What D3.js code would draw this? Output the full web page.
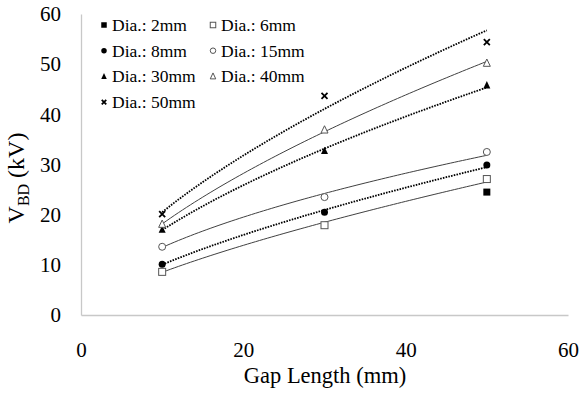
<!DOCTYPE html>
<html><head><meta charset="utf-8">
<script src="https://cdn.jsdelivr.net/npm/d3@7"></script>
<style>
html,body{margin:0;padding:0;background:#fff;}
svg text{font-family:"Liberation Serif","Times New Roman",Times,"DejaVu Serif",serif !important;}
</style></head>
<body><svg id="c" width="586" height="398"></svg>
<script>
// ---- data ----
const gapLengths = [10, 30, 50];
const seriesNames = ["Dia.: 2mm","Dia.: 6mm","Dia.: 8mm","Dia.: 15mm","Dia.: 30mm","Dia.: 40mm","Dia.: 50mm"];
const dia2  = [null, null, 24.5];
const dia6  = [8.6, 17.9, 27.1];
const dia8  = [10.1, 20.5, 29.9];
const dia15 = [13.6, 23.5, 32.5];
const dia30 = [17.0, 32.7, 45.8];
const dia40 = [18.1, 36.9, 50.2];
const dia50 = [20.1, 43.7, 54.4];
const xTicks = [0, 20, 40, 60];
const yTicks = [0, 10, 20, 30, 40, 50, 60];

const series = [
  {name: seriesNames[0], values: dia2,  marker: "square",   filled: true,  trend: null},
  {name: seriesNames[1], values: dia6,  marker: "square",   filled: false, trend: "solid"},
  {name: seriesNames[2], values: dia8,  marker: "circle",   filled: true,  trend: "dotted"},
  {name: seriesNames[3], values: dia15, marker: "circle",   filled: false, trend: "solid"},
  {name: seriesNames[4], values: dia30, marker: "triangle", filled: true,  trend: "dotted"},
  {name: seriesNames[5], values: dia40, marker: "triangle", filled: false, trend: "solid"},
  {name: seriesNames[6], values: dia50, marker: "cross",    filled: true,  trend: "dotted"}
];

const svg = d3.select("#c");
const x = d3.scaleLinear().domain([0, 60]).range([81, 568]);
const y = d3.scaleLinear().domain([0, 60]).range([315, 14]);

// axes lines
const axisColor = "#c8c8c8";
const gx = svg.append("g").attr("transform", `translate(0,${y(0)})`)
  .call(d3.axisBottom(x).tickValues(xTicks).tickSize(0).tickPadding(27));
gx.select(".domain").attr("stroke", axisColor).attr("stroke-width", 1.3);
gx.selectAll("text").attr("font-size", 21).attr("fill", "#000");

const gy = svg.append("g").attr("transform", `translate(${x(0)},0)`)
  .call(d3.axisLeft(y).tickValues(yTicks).tickSize(0).tickPadding(20));
gy.select(".domain").attr("stroke", axisColor).attr("stroke-width", 1.3);
gy.selectAll("text").attr("font-size", 21).attr("fill", "#000");

// axis titles
svg.append("text").attr("x", 325).attr("y", 383).attr("text-anchor", "middle")
  .attr("font-size", 22.5).text("Gap Length (mm)");
const yt = svg.append("text").attr("transform", "translate(24,178) rotate(-90)")
  .attr("text-anchor", "middle").attr("font-size", 24);
yt.append("tspan").text("V");
yt.append("tspan").attr("font-size", 16).attr("dy", 5).text("BD");
yt.append("tspan").attr("dy", -5).text(" (kV)");

// power trendlines fitted from the data points
function powerFit(xs, ys) {
  const pts = xs.map((v, i) => [v, ys[i]]).filter(p => p[1] != null);
  const lx = pts.map(p => Math.log(p[0])), ly = pts.map(p => Math.log(p[1]));
  const mx = d3.mean(lx), my = d3.mean(ly);
  const b = d3.sum(lx.map((v, i) => (v - mx) * (ly[i] - my))) / d3.sum(lx.map(v => (v - mx) ** 2));
  const a = Math.exp(my - b * mx);
  return t => a * Math.pow(t, b);
}
const line = d3.line().x(d => x(d[0])).y(d => y(d[1])).curve(d3.curveLinear);
const trendG = svg.append("g");
series.filter(s => s.trend).forEach(s => {
  const f = powerFit(gapLengths, s.values);
  const xsamp = d3.range(gapLengths[0], gapLengths[gapLengths.length - 1] + 0.01, 0.5);
  trendG.append("path").datum(xsamp.map(t => [t, f(t)]))
    .attr("d", line).attr("fill", "none")
    .attr("stroke", s.trend === "dotted" ? "#000" : "#404040")
    .attr("stroke-width", s.trend === "dotted" ? 1.8 : 1)
    .attr("stroke-dasharray", s.trend === "dotted" ? "1.6,1.2" : null);
});

// markers
function drawMarker(g, type, filled, cx, cy, sz) {
  const fill = filled ? "#000" : "#fff";
  const stroke = filled ? "#000" : "#555";
  if (type === "square") {
    g.append("rect").attr("x", cx - sz / 2).attr("y", cy - sz / 2).attr("width", sz).attr("height", sz)
      .attr("fill", fill).attr("stroke", stroke).attr("stroke-width", filled ? 0 : 1);
  } else if (type === "circle") {
    g.append("circle").attr("cx", cx).attr("cy", cy).attr("r", sz / 2)
      .attr("fill", fill).attr("stroke", stroke).attr("stroke-width", filled ? 0 : 1);
  } else if (type === "triangle") {
    const h = sz * 0.9;
    g.append("path").attr("d", `M${cx},${cy - h / 2 - 1}L${cx + sz / 2},${cy + h / 2}L${cx - sz / 2},${cy + h / 2}Z`)
      .attr("fill", fill).attr("stroke", stroke).attr("stroke-width", filled ? 0 : 1);
  } else if (type === "cross") {
    const r = sz / 2 - 0.5;
    g.append("path").attr("d", `M${cx - r},${cy - r}L${cx + r},${cy + r}M${cx - r},${cy + r}L${cx + r},${cy - r}`)
      .attr("stroke", "#000").attr("stroke-width", 1.8);
  }
}
const markG = svg.append("g");
series.forEach(s => {
  s.values.forEach((v, i) => {
    if (v == null) return;
    drawMarker(markG, s.marker, s.filled, x(gapLengths[i]), y(v), 7);
  });
});

// legend
const legG = svg.append("g");
series.forEach((s, i) => {
  const col = i % 2, row = Math.floor(i / 2);
  const lx = col === 0 ? 104 : 213, ly = 25 + row * 25.7;
  drawMarker(legG, s.marker, s.filled, lx, ly, 5.5);
  legG.append("text").attr("x", lx + 8).attr("y", ly + 6).attr("font-size", 17.5).text(s.name);
});
</script></body></html>
